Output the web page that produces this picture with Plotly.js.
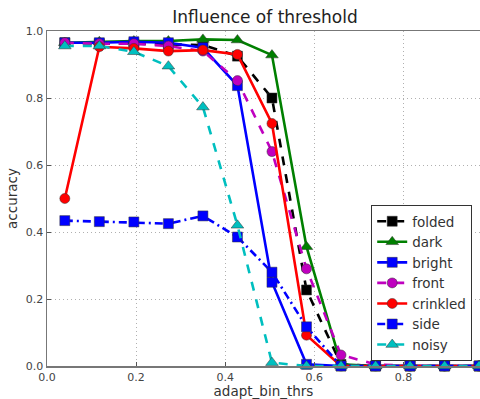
<!DOCTYPE html>
<html>
<head>
<meta charset="utf-8">
<script src="https://cdn.plot.ly/plotly-3.0.1.min.js"></script>
<style>html,body{margin:0;padding:0;background:#fff;}#chart{width:480px;height:399px;}</style>
</head>
<body>
<div id="chart"></div>
<script>
var thresholds = [0.04, 0.1175, 0.195, 0.2725, 0.35, 0.4275, 0.505, 0.5825, 0.66, 0.7375, 0.815, 0.8925, 0.97];
var folded   = [0.965, 0.962, 0.962, 0.96, 0.958, 0.925, 0.80, 0.227, 0.005, 0.0, 0.0, 0.0, 0.0];
var dark     = [0.965, 0.968, 0.970, 0.970, 0.975, 0.973, 0.928, 0.356, 0.005, 0.0, 0.0, 0.0, 0.0];
var bright   = [0.965, 0.965, 0.968, 0.965, 0.950, 0.837, 0.25, 0.005, 0.0, 0.0, 0.0, 0.0, 0.0];
var front    = [0.965, 0.962, 0.962, 0.955, 0.940, 0.852, 0.64, 0.29, 0.033, 0.005, 0.0, 0.0, 0.0];
var crinkled = [0.50, 0.953, 0.948, 0.940, 0.943, 0.930, 0.724, 0.092, 0.0, 0.0, 0.0, 0.0, 0.0];
var side     = [0.434, 0.431, 0.430, 0.425, 0.448, 0.385, 0.28, 0.117, 0.0, 0.0, 0.0, 0.0, 0.0];
var noisy    = [0.955, 0.955, 0.938, 0.895, 0.773, 0.42, 0.01, 0.0, 0.0, 0.0, 0.0, 0.0, 0.0];

var names = ['folded', 'dark', 'bright', 'front', 'crinkled', 'side', 'noisy'];
var series = [folded, dark, bright, front, crinkled, side, noisy];
var colors = ['#000000', '#008000', '#0000ff', '#bf00bf', '#ff0000', '#0000ff', '#00bfbf'];
var dashes = ['dash', 'solid', 'solid', 'dash', 'solid', '8px,4px,2px,4px', 'dash'];
var symbols = ['square', 'triangle-up', 'square', 'circle', 'circle', 'square', 'triangle-up'];

var traces = names.map(function (n, i) {
  return {
    x: thresholds, y: series[i], name: n, type: 'scatter', mode: 'lines+markers',
    line: {color: colors[i], width: 2.6, dash: dashes[i]},
    marker: {color: colors[i], symbol: symbols[i], size: symbols[i] === 'triangle-up' ? 11 : 10,
             line: {color: '#333', width: 0.5}},
    cliponaxis: false
  };
});

var axisCommon = {
  showline: true, linecolor: '#777', linewidth: 1.5, mirror: true,
  showgrid: true, gridcolor: '#b0b0b0', griddash: '1px,3px', gridwidth: 1,
  zeroline: false, ticks: 'inside', ticklen: 4, tickcolor: '#555',
  tickfont: {family: 'DejaVu Sans', size: 11, color: '#444'}
};

var layout = {
  width: 480, height: 399,
  margin: {l: 47, r: 0, t: 31, b: 33},
  paper_bgcolor: '#fff', plot_bgcolor: '#fff',
  title: {text: 'Influence of threshold', font: {family: 'DejaVu Sans', size: 17, color: '#222'},
          x: 0.552, xanchor: 'center', y: 0.972, yanchor: 'top'},
  xaxis: Object.assign({}, axisCommon, {
    range: [0, 0.972], tickvals: [0, 0.2, 0.4, 0.6, 0.8], ticktext: ['0.0', '0.2', '0.4', '0.6', '0.8'],
    title: {text: 'adapt_bin_thrs', font: {family: 'DejaVu Sans', size: 13.5, color: '#333'}, standoff: 3}
  }),
  yaxis: Object.assign({}, axisCommon, {
    range: [0, 1], tickvals: [0, 0.2, 0.4, 0.6, 0.8, 1.0], ticktext: ['0.0', '0.2', '0.4', '0.6', '0.8', '1.0'],
    title: {text: 'accuracy', font: {family: 'DejaVu Sans', size: 13.5, color: '#333'}, standoff: 5}
  }),
  showlegend: true,
  legend: {x: 0.982, xanchor: 'right', y: 0.015, yanchor: 'bottom',
           bgcolor: '#fff', bordercolor: '#333', borderwidth: 1,
           font: {family: 'DejaVu Sans', size: 13.5, color: '#333'}, tracegroupgap: 0, itemwidth: 30}
};

Plotly.newPlot('chart', traces, layout, {displayModeBar: false, staticPlot: true});
</script>
</body>
</html>
